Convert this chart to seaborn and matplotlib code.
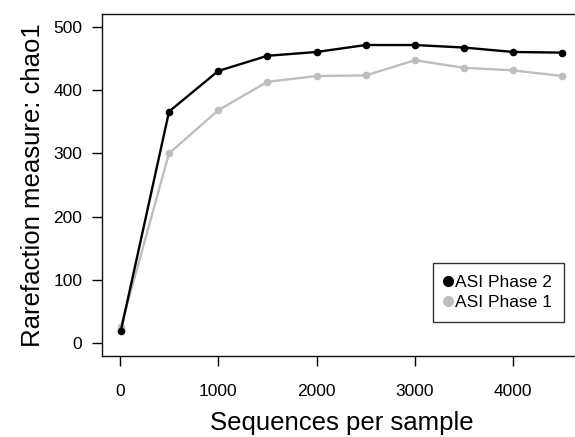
import numpy as np
import pandas as pd
import matplotlib
matplotlib.use("Agg")
import matplotlib.pyplot as plt
import seaborn as sns

# rarefaction depths and chao1 values
depth = [10, 500, 1000, 1500, 2000, 2500, 3000, 3500, 4000, 4500]
phase2 = [20, 366, 430, 454, 460, 471, 471, 467, 460, 459]
phase1 = [26, 300, 368, 413, 422, 423, 447, 435, 431, 422]
groups = ["ASI Phase 2", "ASI Phase 1"]
colors = ["#000000", "#BEBEBE"]
xticks = [0, 1000, 2000, 3000, 4000]
yticks = [0, 100, 200, 300, 400, 500]

df = pd.DataFrame({
    "depth": depth * 2,
    "chao1": phase2 + phase1,
    "group": [groups[0]] * len(depth) + [groups[1]] * len(depth),
})

sns.set_style("white")
plt.rcParams["font.family"] = ["Liberation Sans", "DejaVu Sans"]
plt.rcParams["text.color"] = "black"
plt.rcParams["axes.labelcolor"] = "black"

fig = plt.figure(figsize=(5.75, 4.37), dpi=100)
ax = fig.add_axes([0.1769, 0.1854, 0.8336, 0.7826])

# draw gray first so black ends up on top
sns.lineplot(data=df, x="depth", y="chao1", hue="group",
             hue_order=groups[::-1], palette=colors[::-1],
             marker="o", markersize=5.5, markeredgewidth=0,
             linewidth=1.7, legend=False, ax=ax)

ax.set_xlim(-185, 4690)
ax.set_ylim(-20, 520)
ax.set_xticks(xticks)
ax.set_yticks(yticks)
ax.tick_params(axis="both", direction="out", length=7, width=1,
               colors="black", labelcolor="black", labelsize=12.5,
               left=True, bottom=True)
ax.tick_params(axis="x", pad=13.5)
ax.tick_params(axis="y", pad=7)
for side in ["left", "bottom", "top"]:
    ax.spines[side].set_visible(True)
    ax.spines[side].set_color("#111111")
    ax.spines[side].set_linewidth(1)
ax.spines["right"].set_visible(False)

ax.set_xlabel("Sequences per sample", fontsize=18.5, va="baseline")
ax.xaxis.set_label_coords(0.5, -0.216)
ax.set_ylabel("Rarefaction measure: chao1", fontsize=18.5, va="center")
ax.yaxis.set_label_coords(-0.1434, 0.5)

handles = [plt.Line2D([], [], linestyle="none", marker="o", markersize=8,
                      markeredgewidth=0, color=c) for c in colors]
leg = ax.legend(handles, groups, loc="lower right",
                bbox_to_anchor=(0.965, 0.0994), fontsize=12.5,
                frameon=True, fancybox=False, handlelength=0.4,
                handletextpad=0.2, borderpad=0.7, labelspacing=0.28,
                borderaxespad=0)
leg.get_frame().set_edgecolor("black")
leg.get_frame().set_linewidth(1)

fig.savefig("out.png", dpi=100)
